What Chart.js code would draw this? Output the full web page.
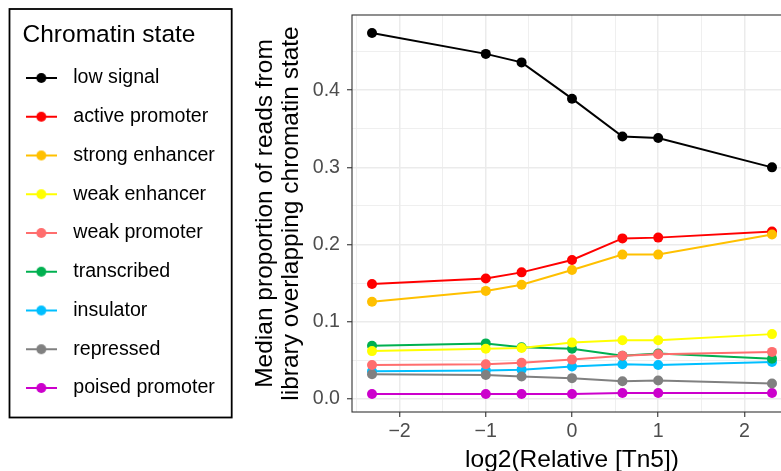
<!DOCTYPE html>
<html>
<head>
<meta charset="utf-8">
<title>Chromatin state vs Tn5</title>
<script src="https://cdn.jsdelivr.net/npm/chart.js@4.4.1/dist/chart.umd.min.js"></script>
<style>
  html, body { margin: 0; padding: 0; background: #fff; }
  #wrap { width: 781px; height: 471px; overflow: hidden; position: relative; }
  #chromChart { display: block; }
</style>
</head>
<body>
<div id="wrap"><canvas id="chromChart" width="800" height="480"></canvas></div>
<script>
// --- Data ---
// log2 of relative Tn5 concentration (0.2x, 0.5x, 0.67x, 1x, 1.5x, 2x, 5x)
const tn5Log2 = [-2.32, -1, -0.585, 0, 0.585, 1, 2.32];

const stateNames = [
  'low signal', 'active promoter', 'strong enhancer', 'weak enhancer',
  'weak promoter', 'transcribed', 'insulator', 'repressed', 'poised promoter'
];
const stateColors = [
  '#000000', '#FF0000', '#FFC000', '#FFFF00',
  '#FF6E6E', '#00B050', '#00BFFF', '#808080', '#CC00CC'
];

// median proportion of reads overlapping each state, one value per Tn5 level
const lowSignal      = [0.474, 0.447, 0.436, 0.389, 0.340, 0.338, 0.300];
const activePromoter = [0.149, 0.156, 0.164, 0.180, 0.208, 0.209, 0.217];
const strongEnhancer = [0.126, 0.140, 0.148, 0.167, 0.187, 0.187, 0.213];
const weakEnhancer   = [0.062, 0.065, 0.066, 0.073, 0.076, 0.076, 0.084];
const weakPromoter   = [0.044, 0.045, 0.047, 0.051, 0.056, 0.058, 0.061];
const transcribed    = [0.069, 0.072, 0.067, 0.065, 0.056, 0.059, 0.052];
const insulator      = [0.036, 0.037, 0.038, 0.042, 0.045, 0.044, 0.048];
const repressed      = [0.032, 0.031, 0.029, 0.027, 0.023, 0.024, 0.020];
const poisedPromoter = [0.0065, 0.0065, 0.0065, 0.0065, 0.0078, 0.0078, 0.0078];

const stateValues = [
  lowSignal, activePromoter, strongEnhancer, weakEnhancer,
  weakPromoter, transcribed, insulator, repressed, poisedPromoter
];

const xTitle = 'log2(Relative [Tn5])';
const yTitle = ['Median proportion of reads from', 'library overlapping chromatin state'];
const legendTitle = 'Chromatin state';

// --- Helpers ---
const FONT = "'Liberation Sans', Arial, Helvetica, sans-serif";
const PANEL = { left: 352, bottom: 412 };

function expandRange(values, mult) {
  const lo = Math.min(...values), hi = Math.max(...values);
  const pad = (hi - lo) * mult;
  return [lo - pad, hi + pad];
}
const [xMin, xMax] = expandRange(tn5Log2, 0.05);
const [yMin, yMax] = expandRange(stateValues.flat(), 0.05);

const isWhole = (v, step) => Math.abs(v / step - Math.round(v / step)) < 1e-6;
const fmtInt = v => (v < 0 ? '\u2212' + Math.abs(Math.round(v)) : String(Math.round(v)));

// small line+dot key used in the legend
function keyIcon(color) {
  const c = document.createElement('canvas');
  c.width = 31; c.height = 12;
  const g = c.getContext('2d');
  g.strokeStyle = color; g.lineWidth = 2;
  g.beginPath(); g.moveTo(0, 6); g.lineTo(31, 6); g.stroke();
  g.fillStyle = color;
  g.beginPath(); g.arc(15.5, 6, 5, 0, Math.PI * 2); g.fill();
  return c;
}
const keyIcons = stateColors.map(keyIcon);

// series are layered alphabetically (later names on top)
const alphaNames = stateNames.slice().sort();

const datasets = stateNames.map((name, i) => ({
  label: name,
  data: tn5Log2.map((x, j) => ({ x, y: stateValues[i][j] })),
  borderColor: stateColors[i],
  backgroundColor: stateColors[i],
  pointBackgroundColor: stateColors[i],
  pointBorderColor: stateColors[i],
  borderWidth: 2,
  pointRadius: 5,
  pointBorderWidth: 0,
  pointHoverRadius: 5,
  tension: 0,
  order: stateNames.length - 1 - alphaNames.indexOf(name)
}));

// --- Plugins ---
const panelBorder = {
  id: 'panelBorder',
  afterDatasetsDraw(chart) {
    const { ctx, chartArea: a } = chart;
    ctx.save();
    ctx.strokeStyle = '#333333';
    ctx.lineWidth = 1.1;
    ctx.strokeRect(a.left, a.top, a.right - a.left, a.bottom - a.top);
    ctx.restore();
  }
};

const legendFrame = {
  id: 'legendFrame',
  afterDraw(chart) {
    const ctx = chart.ctx;
    ctx.save();
    ctx.strokeStyle = '#000000';
    ctx.lineWidth = 1.8;
    ctx.strokeRect(9.5, 9, 222.2, 408.5);
    ctx.restore();
  }
};

// --- Chart ---
new Chart(document.getElementById('chromChart'), {
  type: 'line',
  data: { datasets },
  plugins: [panelBorder, legendFrame],
  options: {
    responsive: false,
    animation: false,
    devicePixelRatio: 1,
    layout: { padding: { top: 15, right: 8, bottom: 0, left: 0 } },
    plugins: {
      tooltip: { enabled: false },
      legend: {
        position: 'left',
        align: 'start',
        maxWidth: 218,
        title: {
          display: true,
          text: legendTitle,
          position: 'center',
          color: '#000000',
          font: { family: FONT, size: 24.5, lineHeight: 1 },
          padding: { top: 8, bottom: 1.5 }
        },
        labels: {
          usePointStyle: true,
          pointStyleWidth: 44.3,
          padding: 19.15,
          color: '#000000',
          font: { family: FONT, size: 19.6 },
          sort: (a, b) => a.datasetIndex - b.datasetIndex,
          generateLabels(chart) {
            const items = Chart.defaults.plugins.legend.labels.generateLabels(chart);
            items.forEach(it => { it.pointStyle = keyIcons[it.datasetIndex]; });
            return items;
          }
        }
      }
    },
    scales: {
      x: {
        type: 'linear',
        min: xMin,
        max: xMax,
        border: { display: false },
        grid: {
          color: '#EBEBEB',
          lineWidth: c => (c.tick && isWhole(c.tick.value, 1) ? 1.5 : 0.8),
          tickLength: 5,
          tickWidth: 1.1,
          tickColor: c => (c.tick && isWhole(c.tick.value, 1) ? '#333333' : 'rgba(0,0,0,0)')
        },
        ticks: {
          stepSize: 0.5,
          includeBounds: false,
          autoSkip: false,
          maxRotation: 0,
          padding: 3,
          color: '#4D4D4D',
          font: { family: FONT, size: 19.6 },
          callback: v => (isWhole(v, 1) ? fmtInt(v) : '')
        },
        title: {
          display: true,
          text: xTitle,
          color: '#000000',
          font: { family: FONT, size: 24.5 },
          padding: { top: 0, bottom: 5.3 }
        },
        afterFit(scale) {
          scale.height = scale.chart.height - PANEL.bottom;
          scale.paddingLeft = 0;
          scale.paddingRight = 0;
        }
      },
      y: {
        type: 'linear',
        min: yMin,
        max: yMax,
        border: { display: false },
        grid: {
          color: '#EBEBEB',
          lineWidth: c => (c.tick && isWhole(c.tick.value, 0.1) ? 1.5 : 0.8),
          tickLength: 5,
          tickWidth: 1.1,
          tickColor: c => (c.tick && isWhole(c.tick.value, 0.1) ? '#333333' : 'rgba(0,0,0,0)')
        },
        ticks: {
          stepSize: 0.05,
          includeBounds: false,
          autoSkip: false,
          padding: 7,
          color: '#4D4D4D',
          font: { family: FONT, size: 19.6 },
          callback: v => (isWhole(v, 0.1) ? v.toFixed(1) : '')
        },
        title: {
          display: true,
          text: yTitle,
          color: '#000000',
          font: { family: FONT, size: 24.5, lineHeight: 26 / 24.5 },
          padding: { top: 34, bottom: 0 }
        },
        afterFit(scale) {
          const lw = scale.chart.legend ? scale.chart.legend.width : 218;
          scale.width = PANEL.left - lw;
          // panel edges are fixed, so no extra room for the end labels
          scale.paddingTop = 0;
          scale.paddingBottom = 0;
        }
      }
    }
  }
});
</script>
</body>
</html>
